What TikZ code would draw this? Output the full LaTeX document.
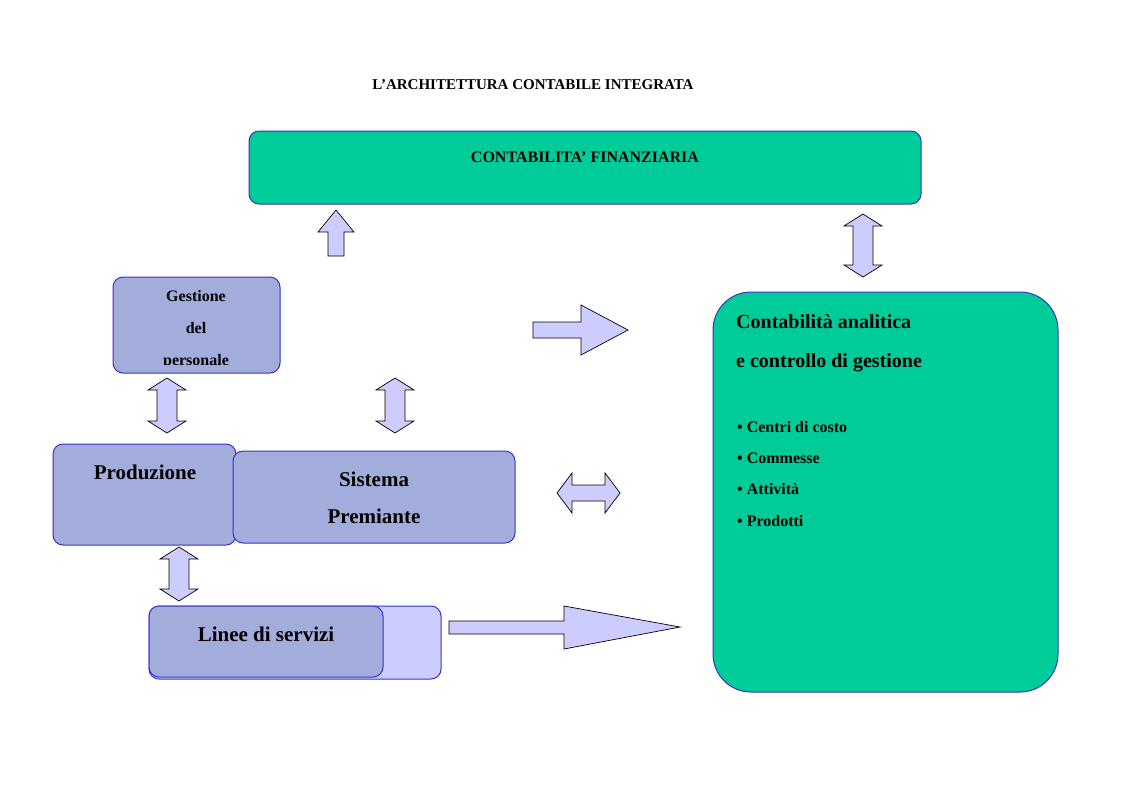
\documentclass[tikz,border=0pt]{standalone}
\usepackage{fontspec}
\setmainfont{Liberation Serif}
\definecolor{grn}{HTML}{00CC99}
\definecolor{lav}{HTML}{A3ADDC}
\definecolor{pale}{HTML}{CCCCFF}
\definecolor{bord}{HTML}{3333CC}
\begin{document}
\begin{tikzpicture}[x=1pt,y=-1pt,
  box/.style={draw=bord,line width=1pt,rounded corners=10pt},
  arr/.style={draw=black,fill=pale,line width=0.7pt,line join=miter},
  txt/.style={font=\bfseries,align=center,inner sep=0pt}]
\useasboundingbox (0,0) rectangle (1123,793);
\node[txt,font=\bfseries\fontsize{15}{18}\selectfont] (title) at (533,85) {L’ARCHITETTURA CONTABILE INTEGRATA};
% top box
\draw[box,fill=grn] (249,131) rectangle (921,204);
\node[txt,font=\bfseries\fontsize{16}{19}\selectfont] (cf) at (585,157) {CONTABILITA’ FINANZIARIA};
% right box
\draw[box,fill=grn,rounded corners=38pt] (713,292) rectangle (1058,692);
\node[txt,align=left,anchor=north west,font=\bfseries\fontsize{20}{39}\selectfont] (ca) at (736,314) {Contabilità analitica\\e controllo di gestione};
\node[txt,align=left,anchor=north west,font=\bfseries\fontsize{16}{31.3}\selectfont] (bl) at (737,421) {• Centri di costo\\• Commesse\\• Attività\\• Prodotti};
% gestione
\draw[box,fill=lav] (113,277) rectangle (280,373);
\begin{scope}
\clip (113,277) rectangle (280,364);
\node[txt,font=\bfseries\fontsize{16}{32}\selectfont,anchor=north] (gp) at (196,290) {Gestione\\del\\personale};
\end{scope}
% produzione, sistema
\draw[box,fill=lav] (53,444) rectangle (236,545);
\node[txt,font=\bfseries\fontsize{21}{25}\selectfont] (pr) at (145,472) {Produzione};
\draw[box,fill=lav] (233,451) rectangle (515,543);
\node[txt,font=\bfseries\fontsize{21}{37}\selectfont] (sp) at (374,498) {Sistema\\Premiante};
% linee
\draw[box,fill=pale] (149,606) rectangle (441,679);
\draw[box,fill=lav] (149,606) rectangle (383,677);
\node[txt,font=\bfseries\fontsize{21}{25}\selectfont] (ls) at (266,634) {Linee di servizi};
% arrows
\draw[arr] (328,256)--(328,232)--(318,232)--(336,210)--(354,232)--(344,232)--(344,256)--cycle;
\foreach \cx/\ya/\yb in {863/214/277,167/378/433,395/378/433,179/547/601}{
 \draw[arr] (\cx,\ya)--(\cx+19,\ya+12)--(\cx+10,\ya+12)--(\cx+10,\yb-12)--(\cx+19,\yb-12)--(\cx,\yb)--(\cx-19,\yb-12)--(\cx-10,\yb-12)--(\cx-10,\ya+12)--(\cx-19,\ya+12)--cycle;}
\draw[arr] (533,322)--(581,322)--(581,305)--(628,330)--(581,355)--(581,338)--(533,338)--cycle;
\draw[arr] (557,493)--(572,473)--(572,485)--(605,485)--(605,473)--(620,493)--(605,513)--(605,501)--(572,501)--(572,513)--cycle;
\draw[arr] (449,621)--(564,621)--(564,606)--(680,627)--(564,649)--(564,634)--(449,634)--cycle;
\end{tikzpicture}
\end{document}
